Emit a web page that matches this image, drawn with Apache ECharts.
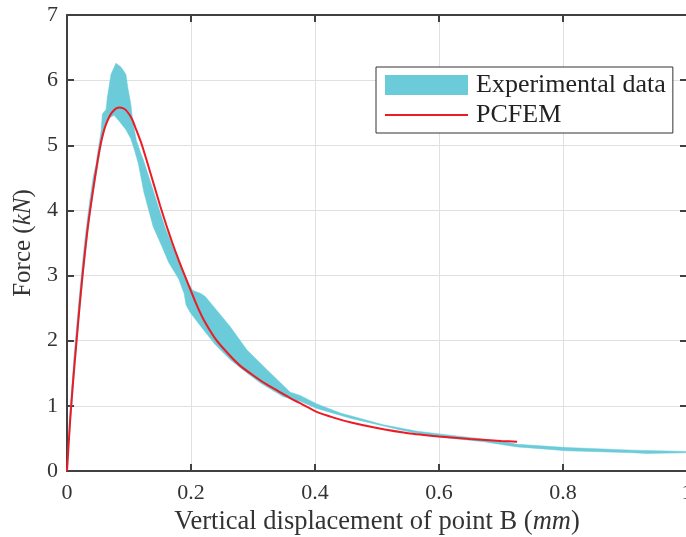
<!DOCTYPE html>
<html>
<head>
<meta charset="utf-8">
<script src="https://cdn.jsdelivr.net/npm/echarts@6/dist/echarts.min.js"></script>
<style>
html,body{margin:0;padding:0;background:#fff;}
#chart{width:686px;height:537px;}
</style>
</head>
<body>
<div id="chart"></div>
<script>
// PCFEM curve
const pcfemX = [0,0.005,0.01,0.015,0.02,0.025,0.03,0.035,0.04,0.045,0.05,0.055,0.06,0.065,0.07,0.075,0.08,0.085,0.09,0.095,0.1,0.105,0.11,0.12,0.13,0.14,0.15,0.16,0.17,0.18,0.19,0.2,0.21,0.22,0.24,0.26,0.28,0.3,0.32,0.34,0.36,0.38,0.4,0.43,0.46,0.5,0.55,0.6,0.65,0.7,0.726];
const pcfemY = [0,0.77,1.4,1.95,2.5,3.0,3.45,3.85,4.18,4.5,4.8,5.05,5.24,5.37,5.47,5.53,5.57,5.58,5.57,5.54,5.48,5.40,5.28,5.03,4.72,4.40,4.08,3.78,3.50,3.24,3.0,2.76,2.53,2.33,2.02,1.80,1.61,1.47,1.34,1.23,1.12,1.02,0.92,0.82,0.74,0.66,0.58,0.53,0.49,0.46,0.45];

// Experimental data band: upper (outer) envelope
const bandUpperX = [0,0.005,0.012,0.02,0.026,0.03,0.036,0.042,0.047,0.049,0.055,0.057,0.063,0.065,0.071,0.079,0.087,0.095,0.098,0.103,0.106,0.112,0.119,0.123,0.140,0.151,0.159,0.181,0.196,0.203,0.215,0.223,0.236,0.263,0.290,0.323,0.360,0.376,0.403,0.441,0.51,0.565,0.618,0.699,0.726,0.806,0.913,1.0];
const bandUpperY = [0,0.95,1.85,2.7,3.3,3.65,4.1,4.5,4.72,4.86,5.22,5.48,5.55,5.73,6.09,6.26,6.2,6.09,5.89,5.63,5.37,5.07,4.88,4.78,4.28,3.95,3.72,3.2,2.88,2.77,2.73,2.68,2.53,2.22,1.86,1.55,1.21,1.16,1.03,0.89,0.71,0.61,0.55,0.46,0.41,0.36,0.32,0.30];
// Experimental data band: lower (inner) envelope
const bandLowerX = [0,0.006,0.016,0.026,0.034,0.042,0.05,0.056,0.062,0.068,0.076,0.085,0.095,0.103,0.109,0.115,0.124,0.139,0.153,0.164,0.180,0.189,0.192,0.199,0.220,0.239,0.263,0.284,0.312,0.349,0.376,0.403,0.457,0.538,0.591,0.672,0.726,0.806,0.913,0.935,1.0];
const bandLowerY = [0,0.8,2.0,3.0,3.7,4.25,4.7,5.05,5.3,5.42,5.46,5.36,5.24,5.1,4.92,4.72,4.28,3.75,3.45,3.20,2.95,2.72,2.55,2.43,2.17,1.94,1.71,1.55,1.35,1.14,1.07,0.96,0.81,0.63,0.53,0.45,0.37,0.31,0.28,0.27,0.28];

const xTicks = [0,0.2,0.4,0.6,0.8,1];
const yTicks = [0,1,2,3,4,5,6,7];

const CYAN = '#6bcbd8';
const RED = '#ec1c24';
const AX = '#404040';
const FONT = '"Liberation Serif","DejaVu Serif",serif';

const bandPoly = bandUpperX.map((x,i)=>[x,bandUpperY[i]])
  .concat(bandLowerX.map((x,i)=>[x,bandLowerY[i]]).reverse());
const pcfemData = pcfemX.map((x,i)=>[x,pcfemY[i]]);

const chart = echarts.init(document.getElementById('chart'), null, {renderer:'canvas'});
const axisCommon = {
  min: 0,
  axisLine: {show:true, onZero:false, lineStyle:{color:AX, width:2}},
  axisTick: {show:true, inside:true, length:7, lineStyle:{color:AX, width:2}},
};
const nameRich = {
  n:{fontFamily:FONT,fontSize:26.5,color:'#333'},
  i:{fontFamily:FONT,fontSize:26.5,fontStyle:'italic',color:'#333'}
};
const yNameRich = {
  n:{fontFamily:FONT,fontSize:25,color:'#333'},
  i:{fontFamily:FONT,fontSize:25,fontStyle:'italic',color:'#333'}
};
chart.setOption({
  animation:false,
  backgroundColor:'#fff',
  grid:{left:67, width:620, top:15, bottom:66, containLabel:false, outerBoundsMode:'none'},
  legend:{
    left:376, top:67, orient:'vertical',
    backgroundColor:'#fff', borderColor:'#333', borderWidth:1, borderRadius:0,
    padding:[5,7,5,9], itemGap:4, itemWidth:83, itemHeight:20,
    symbolKeepAspect:true,
    textStyle:{fontFamily:FONT, fontSize:26, color:'#222', padding:[0,0,0,3]},
    data:[
      {name:'Experimental data', icon:'rect'},
      {name:'PCFEM', icon:'path://M0,0 L83,0 L83,2 L0,2 Z'}
    ]
  },
  xAxis:[{
    type:'value', ...axisCommon, max:1, interval:0.2, position:'bottom',
    splitLine:{show:true, lineStyle:{color:'#e0e0e0', width:1}},
    axisLabel:{fontFamily:FONT, fontSize:22, color:'#333', margin:11,
      formatter:v=>{const t=xTicks.find(k=>Math.abs(k-v)<1e-9); return t===undefined?'':String(t);}},
    name:'{n|Vertical displacement of point B (}{i|mm}{n|)}',
    nameLocation:'middle', nameGap:35,
    nameTextStyle:{rich:nameRich}
  },{
    type:'value', ...axisCommon, max:1, interval:0.2, position:'top',
    splitLine:{show:false}, axisLabel:{show:false}
  }],
  yAxis:[{
    type:'value', ...axisCommon, max:7, interval:1, position:'left',
    splitLine:{show:true, lineStyle:{color:'#e0e0e0', width:1}},
    axisLabel:{fontFamily:FONT, fontSize:22, color:'#333', margin:9,
      formatter:v=>{const t=yTicks.find(k=>Math.abs(k-v)<1e-9); return t===undefined?'':String(t);}},
    name:'{n|Force (}{i|kN}{n|)}',
    nameLocation:'middle', nameGap:30, nameRotate:90,
    nameTextStyle:{rich:yNameRich}
  },{
    type:'value', ...axisCommon, max:7, interval:1, position:'right',
    splitLine:{show:false}, axisLabel:{show:false}
  }],
  series:[{
    name:'Experimental data',
    type:'custom',
    xAxisIndex:0, yAxisIndex:0,
    itemStyle:{color:CYAN},
    data:[[0,0]],
    clip:true,
    renderItem:(params, api)=>{
      return {type:'polygon', shape:{points:bandPoly.map(p=>api.coord(p))}, style:{fill:CYAN, stroke:CYAN, lineWidth:0.5}};
    },
    z:2
  },{
    name:'PCFEM',
    type:'line',
    xAxisIndex:0, yAxisIndex:0,
    data:pcfemData,
    symbol:'none', smooth:0.2,
    lineStyle:{color:RED, width:2},
    itemStyle:{color:RED},
    z:3
  }]
});
</script>
</body>
</html>
